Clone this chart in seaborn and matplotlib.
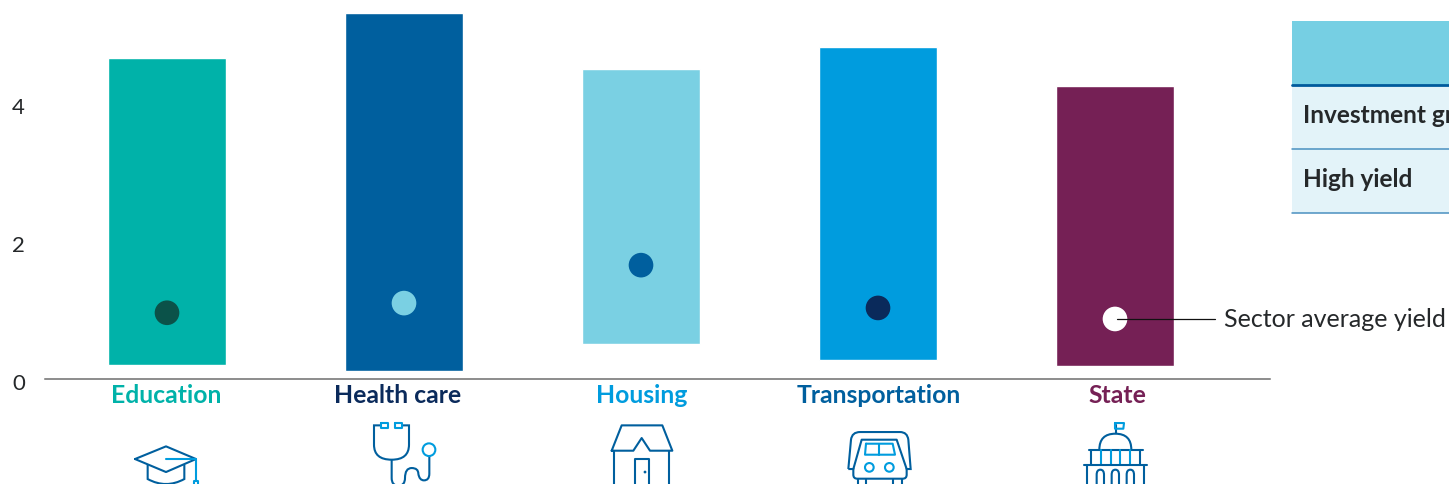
import numpy as np
import pandas as pd
import matplotlib
matplotlib.use("Agg")
import matplotlib.pyplot as plt
import matplotlib.transforms as mtrans
from matplotlib.patches import Circle, PathPatch, Rectangle
from matplotlib.path import Path
import seaborn as sns

# values
sectors = ["Education", "Health care", "Housing", "Transportation", "State"]
range_low = [0.20, 0.12, 0.51, 0.28, 0.19]
range_high = [4.65, 5.30, 4.50, 4.81, 4.24]
sector_avg = [0.96, 1.10, 1.65, 1.03, 0.87]
yticks = [0, 2, 4]
table_rows = ["Investment grade", "High yield"]

bar_colors = ["#00B2A9", "#005F9E", "#7AD0E3", "#009CDE", "#752055"]
dot_colors = ["#0B5249", "#7AD0E3", "#005F9E", "#0A2A5B", "#FFFFFF"]
label_colors = ["#00B2A9", "#0A2A5B", "#009CDE", "#005F9E", "#752055"]
label_nudge = [-1, -6, 1, 1, 2]  # the sector names sit slightly off the bar centres
DARK = "#005F9E"
LIGHT = "#009CDE"
TEXT = "#25282A"

W, H = 1449, 485
sns.set_theme(style="white")
plt.rcParams["font.family"] = ["Lato", "DejaVu Sans"]

fig = plt.figure(figsize=(W / 100, H / 100), dpi=100)
ax = fig.add_axes([45 / W, 1 - 380 / H, 1225 / W, 380 / H])

df = pd.DataFrame({"sector": sectors, "low": range_low, "high": range_high})
df["span"] = df["high"] - df["low"]
sns.barplot(data=df, x="sector", y="span", bottom=df["low"].values, width=0.498,
            color=bar_colors[0], saturation=1, ax=ax)
for bar, col in zip(ax.patches, bar_colors):
    bar.set_facecolor(col)
sns.scatterplot(x=np.arange(len(sectors)), y=sector_avg, hue=sectors, palette=dot_colors,
                s=315, linewidth=0, legend=False, zorder=5, ax=ax)

ax.set_xlim(-0.5148, 4.654)
ax.set_ylim(0, 380 / 69)
ax.set_xlabel("")
ax.set_ylabel("")
ax.set_xticks(range(len(sectors)))
ax.set_xticklabels(sectors, fontsize=17.8, fontweight="bold")
ax.tick_params(axis="x", length=0, pad=3)
ax.set_yticks(yticks)
ax.set_yticklabels([str(v) for v in yticks], fontsize=16, color=TEXT)
ax.tick_params(axis="y", length=0, pad=14.5)
for lab, col, dx in zip(ax.get_xticklabels(), label_colors, label_nudge):
    lab.set_color(col)
    lab.set_transform(lab.get_transform() + mtrans.ScaledTranslation(dx / 100, 0, fig.dpi_scale_trans))
shift = mtrans.ScaledTranslation(0, -2 / 100, fig.dpi_scale_trans)
for lab in ax.get_yticklabels():
    lab.set_transform(lab.get_transform() + shift)
sns.despine(ax=ax, left=True)
ax.spines["bottom"].set_color("#6E6E6E")
ax.spines["bottom"].set_linewidth(1.1)
ax.patch.set_alpha(0)

# overlay in pixel coordinates for table, leader line and icons
ov = fig.add_axes([0, 0, 1, 1], zorder=-1)
ov.set_xlim(0, W)
ov.set_ylim(H, 0)
ov.axis("off")
top = fig.add_axes([0, 0, 1, 1], zorder=5)
top.set_xlim(0, W)
top.set_ylim(H, 0)
top.axis("off")

ov.add_patch(Rectangle((1292, 21.5), 157, 64, fc="#76CFE3", ec="none"))
ov.add_patch(Rectangle((1292, 85.5), 157, 128, fc="#E3F3F9", ec="none"))
ov.plot([1292, 1449], [85.5, 85.5], color="#005A9C", lw=2)
ov.plot([1292, 1449], [149.5, 149.5], color="#4A90C0", lw=1.1)
ov.plot([1292, 1449], [213.5, 213.5], color="#4A90C0", lw=1.1)
for row, y in zip(table_rows, [115.5, 179.5]):
    ov.text(1303, y, row, fontsize=17.6, fontweight="bold", color=TEXT, va="center")

top.plot([1117, 1215], [319.5, 319.5], color="#111111", lw=0.9)
top.text(1224, 319.5, "Sector average yield", fontsize=18, color=TEXT, va="center")


# icons, coordinates taken from 3x crops: (x0, 370) is the crop origin
def px(p, x0):
    return (x0 + p[0] / 3, 370.7 + p[1] / 3)


def line(pts, x0, color=DARK, closed=False):
    pts = [px(p, x0) for p in pts]
    if closed:
        pts = pts + [pts[0]]
    top.plot([p[0] for p in pts], [p[1] for p in pts], color=color, lw=1.5,
             solid_joinstyle="round", solid_capstyle="round")


def curve(verts, codes, x0, color=DARK):
    verts = [px(p, x0) for p in verts]
    top.add_patch(PathPatch(Path(verts, codes), fc="none", ec=color, lw=1.5))


def ring(c, r, x0, color=LIGHT):
    x, y = px(c, x0)
    top.add_patch(Circle((x, y), r / 3, fc="none", ec=color, lw=1.5))


M, L, Q = Path.MOVETO, Path.LINETO, Path.CURVE3

# graduation cap
line([(135, 268), (228, 230), (318, 268), (228, 307)], 90, closed=True)
curve([(173, 285), (173, 328), (228, 358), (283, 328), (283, 285)], [M, L, Q, Q, L], 90)
line([(228, 268), (318, 268), (318, 330)], 90, LIGHT)
line([(311, 348), (311, 333), (325, 333), (325, 348)], 90, LIGHT)

# stethoscope
line([(872, 160), (893, 160), (893, 176), (872, 176)], 90, LIGHT, closed=True)
line([(915, 160), (936, 160), (936, 176), (915, 176)], 90, LIGHT, closed=True)
curve([(872, 167), (852, 167), (852, 225), (852, 270), (905, 270), (957, 270), (957, 225), (957, 167), (936, 167)],
      [M, L, L, Q, Q, Q, Q, L, L], 90)
curve([(905, 270), (905, 325), (905, 348), (925, 348), (945, 348), (945, 325), (945, 295), (965, 295), (985, 295),
       (985, 312), (988, 332), (1002, 332), (1018, 332), (1018, 312), (1018, 258)],
      [M, L, Q, Q, Q, Q, Q, Q, Q, Q, Q, Q, Q, Q, L], 90)
ring((1017, 240), 19, 90)

# house
line([(125, 243), (155, 167), (277, 167), (307, 243), (240, 243), (215, 205), (190, 243)], 570, closed=True)
line([(133, 243), (133, 350)], 570)
line([(298, 243), (298, 350)], 570)
line([(195, 350), (195, 268), (238, 268), (238, 350)], 570)
x, y = px((225, 307), 570)
top.add_patch(Circle((x, y), 1.4, fc=DARK, ec="none"))

# car
curve([(835, 298), (843, 210), (846, 187), (870, 187), (990, 187), (1012, 187), (1015, 210), (1022, 298), (1010, 298),
       (1010, 315), (1010, 327), (998, 327), (862, 327), (850, 327), (850, 315), (850, 298), (835, 298)],
      [M, L, Q, Q, L, Q, Q, L, L, L, Q, Q, L, Q, Q, L, L], 570)
line([(850, 298), (875, 210), (980, 210), (1010, 298)], 570)
line([(888, 222), (968, 222), (975, 255), (885, 255)], 570, LIGHT, closed=True)
line([(928, 222), (928, 255)], 570, LIGHT)
ring((898, 293), 13, 570)
ring((958, 293), 13, 570)
for xv in [863, 888, 970, 997]:
    line([(xv, 327), (xv, 350)], 570)

# state building
line([(227, 190), (227, 165)], 1040)
line([(225, 160), (252, 160), (250, 177), (225, 177)], 1040, LIGHT, closed=True)
curve([(178, 240), (178, 192), (226, 192), (274, 192), (274, 240)], [M, Q, Q, Q, Q], 1040)
line([(148, 240), (308, 240)], 1040)
for xv in [153, 300]:
    line([(xv, 240), (xv, 283)], 1040)
for xv in [183, 212, 241, 270]:
    line([(xv, 240), (xv, 283)], 1040, LIGHT)
line([(133, 285), (322, 285)], 1040)
for xv in [140, 313]:
    line([(xv, 285), (xv, 350)], 1040)
for xv in [170, 215, 260]:
    curve([(xv, 350), (xv, 315), (xv, 300), (xv + 11, 300), (xv + 22, 300), (xv + 22, 315), (xv + 22, 350)],
          [M, L, Q, Q, Q, Q, L], 1040)

fig.savefig("out.png", dpi=100)
